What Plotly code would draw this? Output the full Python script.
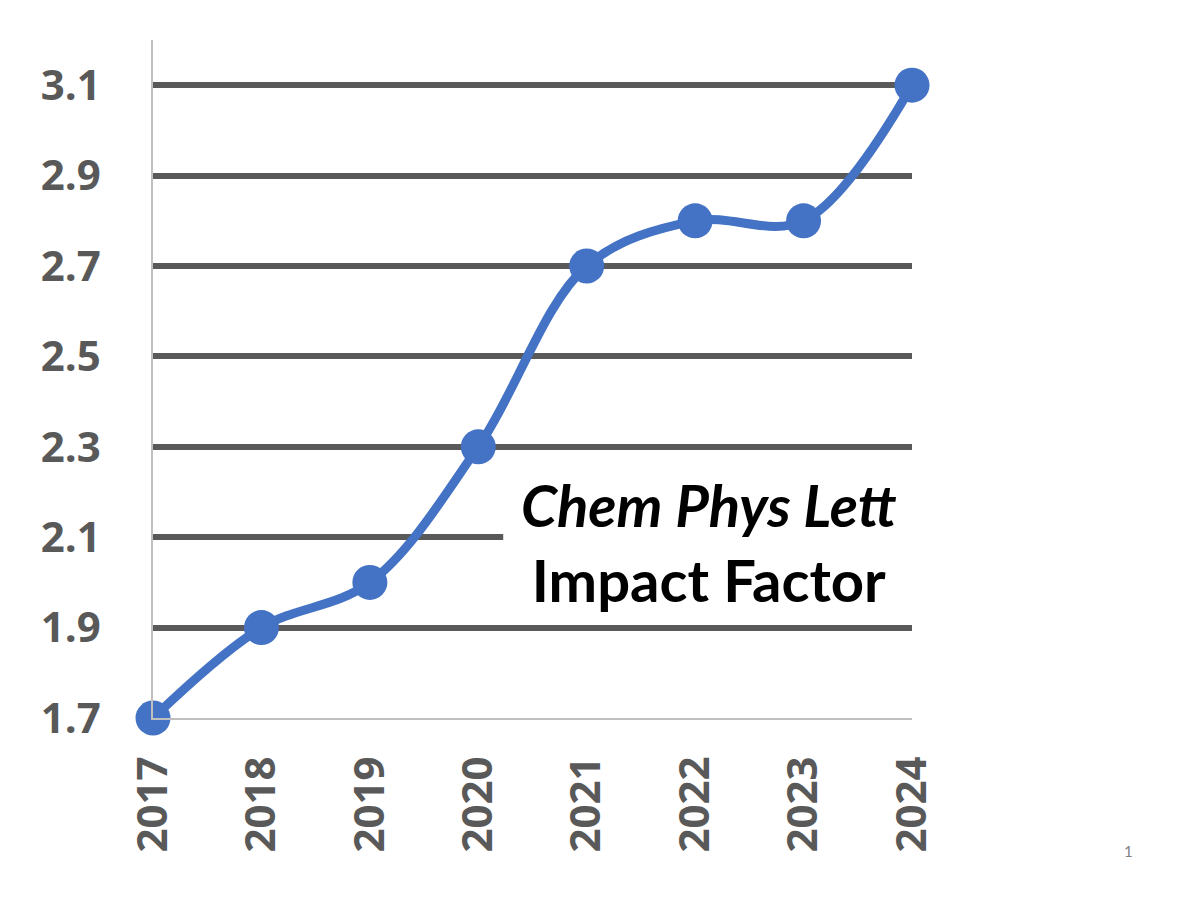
import plotly.graph_objects as go

years = [2017, 2018, 2019, 2020, 2021, 2022, 2023, 2024]
impact_factor = [1.7, 1.9, 2.0, 2.3, 2.7, 2.8, 2.8, 3.1]
y_ticks = [1.7, 1.9, 2.1, 2.3, 2.5, 2.7, 2.9, 3.1]

tick_font = dict(family="Open Sans, Lato", size=42, color="#595959", weight="bold")

# plot area in pixels (page has an 8px body offset)
L, T, W, H = 145, 32, 759, 678

fig = go.Figure()
fig.add_trace(go.Scatter(
    x=years, y=impact_factor,
    mode="lines+markers",
    line=dict(color="#4472C4", width=9, shape="spline", smoothing=1),
    marker=dict(color="#4472C4", size=35),
    cliponaxis=False,
    showlegend=False,
))

# white block behind the label, hides part of the 2.1 gridline
fig.add_shape(type="rect", xref="x", yref="y", x0=2020.23, x1=2024.2, y0=1.97, y1=2.23,
              fillcolor="white", line_width=0, layer="above")

fig.add_annotation(
    x=2022.13, y=2.09, xref="x", yref="y",
    text="<b><i>Chem Phys Lett</i></b><br><b>Impact Factor</b>",
    showarrow=False, align="center",
    font=dict(family="Lato, Open Sans", size=58, color="black"),
)
fig.add_annotation(
    x=(1127 - L) / W, y=(900 - 854 - (900 - T - H)) / H,
    xref="paper", yref="paper", text="1", showarrow=False,
    font=dict(family="Lato", size=15, color="#7f7f7f"),
)

fig.update_xaxes(
    range=[2017, 2024], tickvals=years, ticktext=[str(y) for y in years],
    tickangle=-90, tickfont=tick_font, showgrid=False, zeroline=False,
    showline=True, linecolor="#BFBFBF", linewidth=1.5, ticks="", ticklabelstandoff=20,
)
fig.update_yaxes(
    range=[1.7, 3.2], tickvals=y_ticks, tickfont=tick_font,
    showgrid=True, gridcolor="#595959", gridwidth=6, zeroline=False,
    showline=True, linecolor="#BFBFBF", linewidth=1.5, ticks="", ticklabelstandoff=42,
)
fig.update_layout(
    width=1200, height=900,
    margin=dict(l=L, r=1200 - L - W, t=T, b=900 - T - H),
    plot_bgcolor="white", paper_bgcolor="white",
)

fig.write_html("out.html")
